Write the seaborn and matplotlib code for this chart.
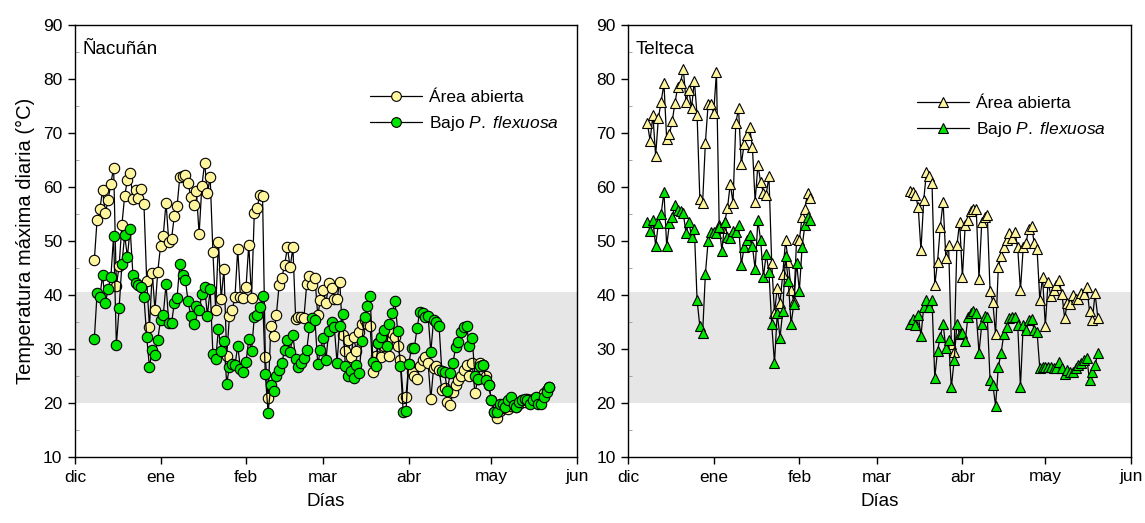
import numpy as np
import matplotlib
matplotlib.use("Agg")
import matplotlib.pyplot as plt
from matplotlib.lines import Line2D
from matplotlib.ticker import MultipleLocator
import seaborn as sns

# ---------------- data ----------------
month_labels = ["dic", "ene", "feb", "mar", "abr", "may", "jun"]
month_start_days = [0, 31, 62, 90, 121, 151, 182]   # days since 1 Dec

nac_start_day = 7
nac_abierta = [46.4, 53.9, 55.9, 59.4, 55.1, 57.6, 60.6, 63.6, 41.7, 45.4,
               53.0, 58.3, 61.3, 62.6, 57.7, 59.4, 58.0, 59.6, 56.8, 42.6,
               34.0, 44.1, 37.2, 44.3, 49.0, 51.0, 57.1, 49.9, 50.4, 54.6,
               56.4, 61.9, 62.0, 62.2, 60.7, 58.1, 56.6, 59.3, 51.3, 60.2,
               64.5, 58.8, 61.9, 47.9, 37.3, 49.9, 39.3, 44.9, 28.7, 36.1,
               37.2, 39.7, 48.5, 39.6, 39.4, 41.4, 49.3, 39.4, 55.1, 56.1,
               58.5, 58.3, 28.6, 20.9, 34.3, 32.4, 36.3, 41.8, 43.2, 45.6,
               48.8, 45.1, 48.8, 35.6, 35.9, 36.0, 35.8, 42.0, 43.5, 41.9,
               43.1, 36.3, 39.1, 40.9, 38.5, 42.2, 41.3, 39.3, 39.3, 42.5,
               32.6, 29.7, 31.7, 28.5, 32.2, 29.7, 33.2, 34.7, 35.4, 34.7,
               34.2, 25.8, 28.7, 31.2, 28.5, 30.5, 31.4, 28.7, 32.9, 32.2,
               30.6, 28.0, 20.9, 21.2, 27.3, 25.7, 25.0, 24.4, 26.8, 28.0,
               28.5, 27.5, 20.7, 26.5, 26.8, 26.2, 22.5, 22.7, 20.1, 19.6,
               22.0, 23.3, 24.2, 25.0, 26.2, 27.0, 25.0, 27.4, 21.8, 24.4,
               27.4, 27.0, 25.0, 23.3, 20.5, 18.4, 17.2, 18.5, 19.0, 19.0,
               18.8, 19.5, 19.8, 19.2, 19.8, 20.5, 20.2, 20.7, 20.3, 20.8,
               21.0, 20.0, 20.5, 21.8, 22.5, 23.0]
nac_bajo = [31.8, 40.3, 39.6, 43.7, 38.5, 41.1, 43.3, 51.0, 30.7, 37.6,
            45.7, 51.1, 47.1, 52.3, 43.7, 42.3, 41.9, 41.5, 39.7, 32.2,
            26.6, 29.9, 28.9, 31.7, 35.4, 36.3, 42.0, 34.8, 34.8, 38.5,
            39.5, 45.7, 43.7, 42.8, 38.8, 36.1, 34.6, 38.0, 37.2, 40.1,
            41.4, 36.2, 41.1, 29.1, 28.1, 33.7, 29.6, 31.4, 23.6, 26.7,
            27.2, 27.0, 30.6, 26.3, 25.7, 27.6, 31.8, 29.6, 35.9, 36.3,
            37.8, 39.9, 25.3, 18.2, 23.3, 22.2, 25.0, 26.1, 27.5, 29.8,
            31.7, 29.5, 32.6, 28.1, 26.7, 27.5, 28.4, 29.8, 34.0, 35.8,
            35.4, 27.2, 29.8, 32.0, 28.0, 33.4, 35.0, 34.1, 27.5, 34.2,
            36.4, 26.9, 25.0, 26.0, 24.6, 27.1, 25.5, 31.4, 35.9, 38.0,
            39.9, 27.6, 26.8, 31.1, 32.3, 33.6, 30.5, 34.7, 36.7, 38.8,
            33.3, 26.9, 18.3, 18.6, 27.3, 30.1, 30.1, 33.8, 36.9, 36.7,
            35.9, 36.2, 29.5, 35.3, 35.0, 34.2, 25.9, 25.7, 22.2, 25.5,
            27.4, 30.3, 31.3, 33.1, 34.0, 34.2, 30.6, 32.0, 25.0, 24.4,
            26.9, 27.0, 24.2, 23.3, 20.5, 18.4, 18.4, 19.9, 19.8, 19.2,
            20.5, 21.1, 19.6, 19.3, 20.2, 20.5, 20.8, 20.5, 19.9, 20.5,
            21.2, 19.8, 19.8, 21.1, 22.1, 23.0]

tel1_start_day = 7
tel1_abierta = [71.8, 68.6, 73.3, 65.8, 72.8, 75.8, 79.2, 68.8, 69.8, 72.2,
                75.6, 78.6, 79.2, 81.9, 75.8, 77.9, 74.6, 79.7, 73.3, 57.7,
                57.1, 68.2, 75.4, 75.4, 73.7, 81.3, 52.9, 52.5, 53.6, 56.1,
                60.6, 57.1, 71.8, 74.6, 64.2, 67.9, 69.7, 71.1, 67.5, 57.3,
                64.1, 60.9, 58.9, 58.6, 62.0, 45.9, 36.7, 41.3, 38.5, 43.9,
                50.1, 46.2, 41.0, 38.8, 50.3, 50.2, 54.5, 56.0, 58.9, 57.9]
tel1_bajo = [53.6, 51.9, 53.9, 49.1, 53.3, 55.0, 59.1, 49.1, 53.3, 54.4,
             56.7, 55.7, 55.6, 55.2, 51.4, 53.6, 50.8, 52.3, 39.0, 34.2,
             32.9, 43.9, 50.0, 51.7, 51.7, 51.4, 52.6, 48.2, 53.6, 50.8,
             50.5, 51.9, 51.6, 53.0, 45.6, 48.8, 50.1, 51.1, 49.1, 44.8,
             53.9, 50.1, 43.3, 47.6, 44.2, 34.6, 27.4, 36.6, 32.1, 37.1,
             47.3, 42.6, 34.6, 38.3, 46.0, 40.8, 48.9, 53.0, 54.5, 53.8]

tel2_start_day = 102
tel2_abierta = [59.2, 59.0, 58.5, 56.3, 48.3, 57.6, 62.8, 62.0, 60.7, 41.8,
                46.1, 52.6, 57.3, 46.9, 49.2, 31.0, 29.5, 49.2, 53.5, 43.3,
                52.9, 53.9, 55.6, 55.9, 55.9, 43.0, 53.5, 54.5, 54.9, 40.8,
                38.7, 32.7, 45.2, 47.2, 48.8, 50.2, 51.5, 50.5, 51.7, 48.8,
                40.9, 48.8, 49.6, 52.3, 52.8, 49.6, 48.6, 39.1, 43.3, 34.3,
                42.5, 39.8, 41.0, 41.9, 42.7, 40.2, 35.7, 38.6, 38.4, 40.0,
                39.2, 39.2, 40.3, 40.2, 41.5, 37.0, 35.3, 40.3, 35.8]
tel2_bajo = [34.7, 35.5, 34.5, 36.3, 32.4, 37.8, 39.0, 37.8, 39.0, 24.7,
             29.7, 32.2, 34.7, 30.2, 31.6, 22.9, 27.9, 34.6, 32.7, 33.0,
             31.4, 36.0, 36.7, 37.1, 36.6, 29.3, 34.6, 36.2, 36.0, 24.3,
             23.4, 19.5, 26.7, 29.3, 32.8, 34.1, 35.7, 36.0, 36.0, 34.5,
             23.0, 34.5, 33.5, 35.3, 35.5, 33.5, 33.2, 26.4, 26.6, 26.6,
             26.7, 26.6, 26.4, 26.4, 27.6, 26.4, 25.4, 26.1, 25.8, 25.8,
             26.4, 27.0, 27.5, 28.0, 28.3, 24.2, 25.8, 27.0, 29.3]

band_low, band_high = 20, 40.5

# ---------------- style ----------------
sns.set_style("ticks")
plt.rcParams["font.family"] = ["Liberation Sans", "DejaVu Sans"]
plt.rcParams["mathtext.fontset"] = "custom"
plt.rcParams["mathtext.rm"] = "Liberation Sans"
plt.rcParams["mathtext.it"] = "Liberation Sans:italic"
plt.rcParams["axes.labelcolor"] = "black"
plt.rcParams["text.color"] = "black"

YELLOW = "#FFF59E"
GREEN = "#00E400"

fig = plt.figure(figsize=(11.45, 5.23), dpi=100)
ax1 = fig.add_axes([75 / 1145, 1 - 457 / 523, 502 / 1145, 432 / 523])
ax2 = fig.add_axes([628 / 1145, 1 - 457 / 523, 503 / 1145, 432 / 523])


def draw_series(ax, start, values, marker, face):
    days = np.arange(start, start + len(values))
    sns.lineplot(x=days, y=values, ax=ax, color="black", linewidth=0.9,
                 marker=marker, markersize=7.5,
                 markerfacecolor=face, markeredgecolor="black",
                 markeredgewidth=0.8, estimator=None, sort=False,
                 legend=False, zorder=3)


draw_series(ax1, nac_start_day, nac_abierta, "o", YELLOW)
draw_series(ax1, nac_start_day, nac_bajo, "o", GREEN)
draw_series(ax2, tel1_start_day, tel1_abierta, "^", YELLOW)
draw_series(ax2, tel1_start_day, tel1_bajo, "^", GREEN)
draw_series(ax2, tel2_start_day, tel2_abierta, "^", YELLOW)
draw_series(ax2, tel2_start_day, tel2_bajo, "^", GREEN)

for ax, title, mk in [(ax1, "Ñacuñán", "o"), (ax2, "Telteca", "^")]:
    ax.axhspan(band_low, band_high, color="#E6E6E6", zorder=0, lw=0)
    ax.set_xlim(month_start_days[0], month_start_days[-1])
    ax.set_ylim(10, 90)
    ax.set_xticks(month_start_days)
    ax.set_xticklabels(month_labels)
    ax.set_yticks(range(10, 91, 10))
    ax.yaxis.set_minor_locator(MultipleLocator(5))
    ax.tick_params(axis="both", which="major", direction="out", length=5,
                   width=1, labelsize=12.5, colors="black", pad=4,
                   top=False, right=False)
    ax.tick_params(axis="y", which="minor", direction="in", length=3,
                   width=0.6, color="#999999", right=False)
    for s in ax.spines.values():
        s.set_visible(True)
        s.set_color("black")
        s.set_linewidth(1.0)
    ax.set_xlabel("Días", fontsize=13.5, labelpad=6, color="black")
    ax.text(0.015, 0.962, title, transform=ax.transAxes, ha="left", va="top",
            fontsize=13.5, color="black")
    handles = [
        Line2D([0], [0], color="black", lw=0.9, marker=mk, markersize=7,
               markerfacecolor=YELLOW, markeredgecolor="black", markeredgewidth=0.8),
        Line2D([0], [0], color="black", lw=0.9, marker=mk, markersize=7,
               markerfacecolor=GREEN, markeredgecolor="black", markeredgewidth=0.8),
    ]
    labels = ["Área abierta", r"Bajo $\mathit{P.}$ $\mathit{flexuosa}$"]
    anchor = (0.587, 0.85) if ax is ax1 else (0.575, 0.835)
    leg = ax.legend(handles, labels, loc="upper left", bbox_to_anchor=anchor,
                    frameon=False, fontsize=12.5, handlelength=3.0,
                    handletextpad=0.4, labelspacing=0.5, borderaxespad=0,
                    borderpad=0)
    for t in leg.get_texts():
        t.set_color("black")

ax1.set_ylabel("Temperatura máxima diaria (°C)", fontsize=14.5, labelpad=6,
               color="black")
ax2.set_ylabel("")

fig.savefig("out.png", dpi=100)
